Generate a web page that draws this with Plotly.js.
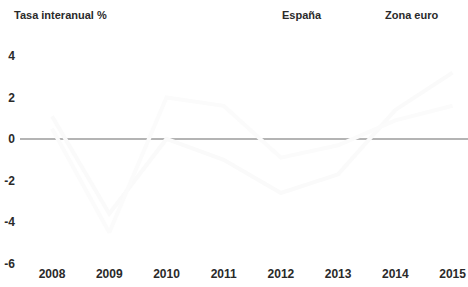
<!DOCTYPE html>
<html><head><meta charset="utf-8">
<script src="https://cdn.plot.ly/plotly-3.0.1.min.js"></script>
<style>html,body{margin:0;padding:0;background:#fff}#c{width:468px;height:287px}</style>
</head><body><div id="c"></div>
<script>
const years = [2008, 2009, 2010, 2011, 2012, 2013, 2014, 2015];
const espana = [1.1, -3.6, 0.0, -1.0, -2.6, -1.7, 1.4, 3.2];
const zonaEuro = [0.5, -4.5, 2.0, 1.6, -0.9, -0.3, 0.9, 1.6];
const yTicks = [4, 2, 0, -2, -4, -6];
const yTickLabels = ['4', '2', '0', '-2', '-4', '-6'];
const xTickLabels = ['2008', '2009', '2010', '2011', '2012', '2013', '2014', '2015'];

const F = '"Liberation Sans Narrow","Liberation Sans",Arial,sans-serif';
const traces = [
  {x: years, y: espana, type: 'scatter', mode: 'lines', name: 'España',
   line: {color: '#fafafa', width: 4}, hoverinfo: 'skip'},
  {x: years, y: zonaEuro, type: 'scatter', mode: 'lines', name: 'Zona euro',
   line: {color: '#fbfbfb', width: 4}, hoverinfo: 'skip'}
];
const layout = {
  width: 468, height: 287,
  margin: {l: 20, r: 0, t: 30, b: 22},
  paper_bgcolor: '#fff', plot_bgcolor: '#fff',
  showlegend: false,
  font: {family: F, size: 12, color: '#2a2a2a'},
  xaxis: {range: [2007.44, 2015.27], tickvals: years, ticktext: xTickLabels,
    showgrid: false, zeroline: false, showline: false, ticks: '',
    tickfont: {family: F, size: 12, color: '#2a2a2a', weight: 'bold'}, fixedrange: true},
  yaxis: {range: [-6.07, 5.25], tickvals: yTicks, ticktext: yTickLabels,
    showgrid: false, zeroline: true, zerolinecolor: '#b4b4b4', zerolinewidth: 1.5,
    showline: false, ticks: '', ticklabelstandoff: 4,
    tickfont: {family: F, size: 12, color: '#2a2a2a', weight: 'bold'}, fixedrange: true},
  annotations: [
    {xref: 'paper', yref: 'paper', x: -0.018, y: 1.065, xanchor: 'left', yanchor: 'middle',
     text: 'Tasa interanual %', showarrow: false, font: {family: F, size: 11, color: '#2a2a2a', weight: 'bold'}},
    {xref: 'paper', yref: 'paper', x: 0.58, y: 1.065, xanchor: 'left', yanchor: 'middle',
     text: 'España', showarrow: false, font: {family: F, size: 11, color: '#2a2a2a', weight: 'bold'}},
    {xref: 'paper', yref: 'paper', x: 0.81, y: 1.065, xanchor: 'left', yanchor: 'middle',
     text: 'Zona euro', showarrow: false, font: {family: F, size: 11, color: '#2a2a2a', weight: 'bold'}}
  ]
};
Plotly.newPlot('c', traces, layout, {displayModeBar: false, staticPlot: true});
</script></body></html>
